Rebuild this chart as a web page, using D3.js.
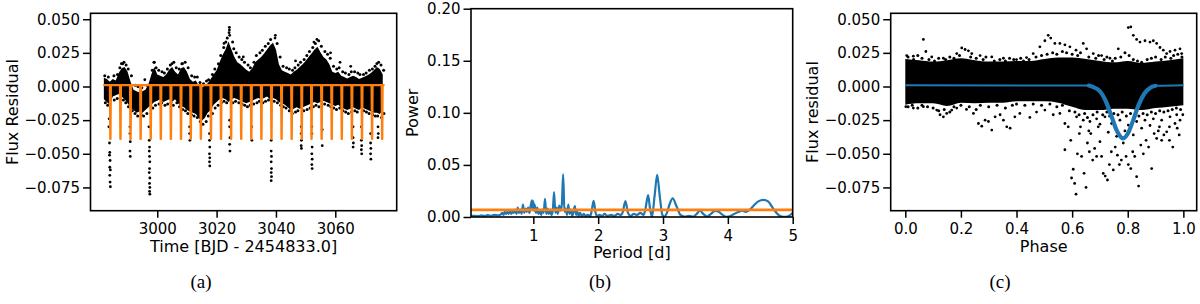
<!DOCTYPE html>
<html><head><meta charset="utf-8">
<script src="https://cdn.jsdelivr.net/npm/d3@7"></script>
<style>body{margin:0;background:#fff}svg{display:block}</style>
</head><body>
<svg id="chart" width="1200" height="304"></svg>
<script>
// ---------------- DATA ----------------
// Panel (a): light curve dense band envelope (time, upper, lower)
const aTime = [2982,2983,2984,2985,2986,2987,2988,2989,2990,2991,2992,2993,2994,2995,2996,2997,2998,2999,3000,3001,3002,3003,3004,3005,3006,3007,3008,3009,3010,3011,3012,3013,3014,3015,3016,3017,3018,3019,3020,3021,3022,3023,3024,3025,3026,3027,3028,3029,3030,3031,3032,3033,3034,3035,3036,3037,3038,3039,3040,3041,3042,3043,3044,3045,3046,3047,3048,3049,3050,3051,3052,3053,3054,3055,3056,3057,3058,3059,3060,3061,3062,3063,3064,3065,3066,3067,3068,3069,3070,3071,3072,3073,3074,3075,3076];
const aUpper = [0.0065,0.0055,0.0035,0.0055,0.0045,0.010,0.0135,0.0145,0.011,0.0035,-0.0025,-0.0035,-0.0045,-0.0035,-0.0025,0.0015,0.009,0.0145,0.009,0.008,0.007,0.009,0.0125,0.0145,0.011,0.009,0.0135,0.0145,0.011,0.0055,0.0035,0.0045,0.0005,-0.0005,0.0005,0.0025,0.0055,0.009,0.012,0.018,0.0235,0.0275,0.0335,0.0275,0.022,0.018,0.0165,0.0145,0.0125,0.011,0.0135,0.018,0.020,0.022,0.0245,0.0275,0.0305,0.0325,0.0275,0.0165,0.012,0.011,0.010,0.009,0.011,0.0125,0.0145,0.0165,0.019,0.022,0.0245,0.0275,0.0295,0.0255,0.022,0.020,0.0165,0.011,0.010,0.011,0.008,0.007,0.006,0.007,0.008,0.007,0.0055,0.0065,0.0075,0.0085,0.010,0.012,0.0145,0.013,0.009];
const aLower = [-0.0095,-0.0115,-0.0135,-0.0075,-0.0065,-0.0055,-0.0075,-0.0095,-0.0125,-0.0155,-0.0175,-0.0195,-0.0185,-0.0195,-0.0175,-0.0155,-0.0135,-0.0115,-0.0105,-0.0095,-0.0115,-0.0105,-0.0095,-0.0115,-0.0095,-0.0125,-0.0145,-0.0155,-0.0175,-0.0185,-0.0195,-0.0205,-0.0235,-0.0255,-0.0235,-0.0195,-0.0175,-0.0135,-0.0115,-0.0095,-0.0085,-0.0095,-0.0115,-0.0095,-0.0085,-0.0095,-0.0105,-0.0115,-0.0125,-0.0115,-0.0105,-0.0095,-0.0085,-0.0095,-0.0085,-0.0075,-0.0095,-0.0085,-0.0095,-0.0115,-0.0125,-0.0135,-0.0155,-0.0175,-0.0165,-0.0155,-0.0165,-0.0155,-0.0145,-0.0135,-0.0125,-0.0115,-0.0125,-0.0115,-0.0105,-0.0115,-0.0125,-0.0135,-0.0145,-0.0135,-0.0155,-0.0165,-0.0175,-0.0165,-0.0155,-0.0165,-0.0175,-0.0155,-0.0165,-0.0175,-0.0185,-0.0195,-0.0195,-0.0205,-0.0175];
// Panel (a): individual scattered points (time, flux)
const aPoints = [
 [2983.9,-0.042],[2984.0,-0.049],[2983.9,-0.051],[2984.1,-0.055],[2984.0,-0.060],[2984.2,-0.062],[2984.0,-0.066],[2984.1,-0.071],[2984.2,-0.0745],[2983.7,-0.030],[2983.8,-0.024],
 [2990.8,-0.030],[2990.8,-0.035],[2990.9,-0.041],[2990.8,-0.048],[2990.9,-0.052],
 [2997.3,-0.040],[2997.4,-0.045],[2997.3,-0.048],[2997.4,-0.052],[2997.5,-0.056],[2997.4,-0.061],[2997.3,-0.064],[2997.5,-0.068],[2997.4,-0.072],[2997.5,-0.075],[2997.4,-0.078],[2997.5,-0.080],[2997.2,-0.030],
 [3010.9,-0.030],[3010.9,-0.035],[3011.0,-0.040],
 [3017.6,-0.035],[3017.6,-0.040],[3017.7,-0.045],[3017.6,-0.050],[3017.7,-0.053],[3017.6,-0.056],[3017.7,-0.059],
 [3024.4,-0.025],[3024.4,-0.030],[3024.5,-0.038],[3024.4,-0.043],[3024.5,-0.048],
 [3031.9,-0.040],[3031.8,-0.030],
 [3038.4,-0.040],[3038.4,-0.048],[3038.5,-0.052],[3038.4,-0.056],[3038.5,-0.061],[3038.4,-0.064],[3038.5,-0.067],[3038.4,-0.070],
 [3048.5,-0.030],[3048.5,-0.035],[3048.6,-0.040],[3048.5,-0.044],[3048.6,-0.046],
 [3052.1,-0.030],[3052.1,-0.035],[3052.2,-0.045],[3052.1,-0.050],[3052.2,-0.054],[3052.1,-0.058],[3052.2,-0.061],
 [3055.6,-0.044],[3055.6,-0.032],
 [3066.0,-0.030],[3066.0,-0.038],[3066.1,-0.042],[3066.0,-0.045],
 [3068.8,-0.030],[3068.8,-0.040],[3068.9,-0.044],[3068.8,-0.047],[3068.9,-0.050],
 [3071.9,-0.035],[3071.9,-0.042],[3072.0,-0.046],[3071.9,-0.050],[3072.0,-0.054],
 [3074.4,-0.030],[3074.5,-0.035],[3074.4,-0.038],
 [3024.3,0.044],[3024.3,0.042],[3024.2,0.040],[3024.4,0.038],[3039.8,0.038],[3039.7,0.036],[3053.8,0.035],[3052.8,0.033],[3022.5,0.032],
 [2987.9,0.017],[2999.0,0.018],[3005.0,0.017],[3008.5,0.017],[3046.6,0.019],[3058.4,0.025],[3061.6,0.018],[3074.0,0.017],[2995.8,0.005],[3029.0,0.022],[3065.2,0.015]
];
// Panel (a): points on the fuzzy upper and lower edges of the dense cloud
const aEdgePoints = [
 [2982.3,0.008],[2983.5,0.007],[2985.4,0.008],[2986.6,0.009],[2987.4,0.014],[2988.3,0.017],[2988.8,0.018],[2989.5,0.016],[2990.2,0.013],[2991.3,0.008],[2992.6,0.001],[2993.5,0.000],[2994.8,-0.001],[2996.6,0.001],[2998.3,0.012],[2998.9,0.018],[2999.6,0.014],[3000.5,0.012],[3001.6,0.011],[3002.4,0.010],[3003.4,0.013],[3004.4,0.016],[3005.6,0.018],[3006.4,0.014],[3007.4,0.013],[3008.3,0.017],[3009.4,0.018],[3010.4,0.014],[3011.6,0.008],[3012.6,0.007],[3013.5,0.007],[3014.4,0.003],[3015.6,0.002],[3016.6,0.004],[3017.3,0.005],[3018.6,0.009],[3019.4,0.013],[3020.6,0.017],[3021.4,0.023],[3022.4,0.029],[3023.1,0.033],[3023.6,0.036],[3025.4,0.033],[3025.8,0.028],[3026.6,0.025],[3027.6,0.022],[3028.5,0.020],[3029.4,0.018],[3030.6,0.016],[3031.4,0.014],[3032.6,0.018],[3033.4,0.023],[3034.6,0.025],[3035.4,0.027],[3036.4,0.030],[3037.4,0.032],[3038.2,0.035],[3040.4,0.032],[3041.4,0.022],[3042.4,0.015],[3043.6,0.014],[3044.5,0.013],[3045.6,0.012],[3046.4,0.014],[3047.5,0.016],[3048.3,0.018],[3049.5,0.020],[3050.4,0.023],[3051.3,0.026],[3052.4,0.029],[3053.3,0.032],[3054.4,0.034],[3055.3,0.030],[3056.5,0.026],[3057.4,0.024],[3058.3,0.021],[3059.4,0.015],[3060.5,0.013],[3061.3,0.014],[3062.5,0.011],[3063.4,0.010],[3064.6,0.009],[3065.4,0.011],[3066.5,0.011],[3067.6,0.010],[3068.3,0.009],[3069.5,0.009],[3070.4,0.010],[3071.5,0.012],[3072.5,0.013],[3073.4,0.015],[3074.6,0.018],[3075.4,0.016],[3076.3,0.012],
 [2982.5,-0.012],[2983.3,-0.014],[2985.5,-0.010],[2986.5,-0.009],[2987.6,-0.008],[2988.6,-0.010],[2989.4,-0.012],[2990.3,-0.015],[2991.6,-0.018],[2992.5,-0.020],[2993.4,-0.022],[2994.6,-0.021],[2995.4,-0.022],[2996.5,-0.020],[2998.5,-0.016],[2999.4,-0.014],[3000.6,-0.013],[3001.5,-0.012],[3002.6,-0.014],[3003.5,-0.013],[3004.6,-0.012],[3005.4,-0.014],[3006.6,-0.012],[3007.5,-0.015],[3008.6,-0.017],[3009.5,-0.018],[3010.3,-0.020],[3011.5,-0.021],[3012.4,-0.022],[3013.5,-0.023],[3014.5,-0.026],[3015.4,-0.028],[3016.5,-0.026],[3017.2,-0.022],[3018.6,-0.020],[3019.5,-0.016],[3020.5,-0.014],[3021.6,-0.012],[3022.5,-0.011],[3023.4,-0.012],[3025.5,-0.012],[3026.4,-0.011],[3027.5,-0.012],[3028.6,-0.013],[3029.5,-0.014],[3030.4,-0.015],[3031.3,-0.014],[3032.5,-0.013],[3033.6,-0.012],[3034.4,-0.011],[3035.6,-0.012],[3036.5,-0.011],[3037.5,-0.010],[3039.4,-0.011],[3040.5,-0.012],[3041.6,-0.014],[3042.5,-0.015],[3043.4,-0.016],[3044.5,-0.018],[3045.5,-0.020],[3046.6,-0.019],[3047.4,-0.018],[3049.4,-0.018],[3050.5,-0.017],[3051.5,-0.016],[3052.6,-0.015],[3053.5,-0.014],[3054.5,-0.015],[3056.4,-0.013],[3057.6,-0.014],[3058.5,-0.015],[3059.5,-0.016],[3060.4,-0.017],[3061.5,-0.016],[3062.6,-0.018],[3063.5,-0.019],[3064.4,-0.020],[3065.5,-0.019],[3066.6,-0.018],[3067.4,-0.019],[3069.6,-0.018],[3070.5,-0.019],[3071.4,-0.020],[3072.6,-0.021],[3073.5,-0.022],[3074.3,-0.022],[3075.6,-0.023],[3076.4,-0.020]
];
// Panel (a): transit model (dip times, baseline, depth, half widths in days)
const aDipTimes = [2984.2,2987.6,2991.0,2994.4,2997.8,3001.2,3004.6,3008.0,3011.3,3014.7,3018.1,3021.5,3024.9,3028.3,3031.7,3035.1,3038.5,3041.9,3045.3,3048.7,3052.0,3055.4,3058.8,3062.2,3065.6,3069.0,3072.4,3075.8];
const aModelBase = 0.001;
const aModelDepth = -0.0390;
const aDipOuter = 0.17, aDipInner = 0.04;

// Panel (b): periodogram (period [d], power)
const bPeriod = [0.04,0.1,0.15,0.2,0.25,0.3,0.35,0.4,0.45,0.5,0.52,0.54,0.56,0.58,0.6,0.62,0.64,0.66,0.68,0.7,0.72,0.74,0.76,0.78,0.8,0.82,0.84,0.86,0.88,0.9,0.92,0.94,0.96,0.98,0.99,1.0,1.01,1.02,1.04,1.06,1.08,1.1,1.12,1.14,1.16,1.18,1.2,1.22,1.24,1.26,1.28,1.3,1.32,1.34,1.36,1.38,1.4,1.42,1.44,1.46,1.48,1.5,1.52,1.54,1.56,1.58,1.6,1.62,1.64,1.66,1.68,1.7,1.72,1.75,1.78,1.8,1.84,1.88,1.9,1.93,1.96,1.98,2.02,2.06,2.1,2.14,2.2,2.25,2.3,2.35,2.38,2.42,2.46,2.5,2.55,2.6,2.65,2.7,2.73,2.77,2.8,2.83,2.87,2.91,2.95,2.99,3.02,3.06,3.1,3.15,3.21,3.27,3.33,3.4,3.47,3.52,3.57,3.62,3.68,3.74,3.8,3.86,3.92,3.98,4.04,4.1,4.17,4.22,4.28,4.34,4.4,4.47,4.55,4.62,4.7,4.78,4.85,4.92,5.0];
const bPower = [0.001,0.0012,0.0008,0.0015,0.001,0.0018,0.0012,0.002,0.0015,0.0025,0.004,0.002,0.005,0.003,0.005,0.003,0.006,0.003,0.005,0.004,0.007,0.003,0.009,0.004,0.007,0.003,0.012,0.004,0.008,0.005,0.009,0.004,0.011,0.016,0.008,0.015,0.006,0.012,0.004,0.009,0.003,0.006,0.002,0.007,0.004,0.0175,0.003,0.008,0.003,0.007,0.002,0.006,0.024,0.004,0.009,0.003,0.011,0.006,0.012,0.041,0.005,0.008,0.002,0.012,0.003,0.007,0.001,0.005,0.0105,0.002,0.005,0.001,0.004,0.001,0.003,0.001,0.002,0.001,0.006,0.0155,0.004,0.001,0.002,0.001,0.003,0.001,0.002,0.001,0.003,0.002,0.005,0.0152,0.004,0.001,0.003,0.002,0.004,0.002,0.008,0.021,0.008,0.0005,0.02,0.0405,0.02,0.002,0.0005,0.004,0.012,0.0178,0.01,0.002,0.0005,0.001,0.0005,0.003,0.006,0.003,0.0005,0.003,0.0058,0.005,0.002,0.0002,0.001,0.003,0.005,0.006,0.005,0.007,0.011,0.015,0.0165,0.015,0.008,0.002,0.0002,0.0005,0.004];
const bThreshold = 0.0068;

// Panel (c): phase-folded band envelope
const cPhase = [0,0.05,0.1,0.15,0.2,0.25,0.3,0.35,0.4,0.45,0.5,0.55,0.6,0.65,0.7,0.75,0.8,0.85,0.9,0.95,1.0];
const cUpper = [0.0205,0.0195,0.0185,0.0195,0.021,0.0195,0.0185,0.0185,0.019,0.019,0.0205,0.0215,0.0215,0.0205,0.019,0.018,0.019,0.0175,0.0185,0.0195,0.021];
const cLower = [-0.0135,-0.0125,-0.0125,-0.0145,-0.012,-0.0125,-0.012,-0.012,-0.011,-0.011,-0.011,-0.012,-0.015,-0.0175,-0.0175,-0.0165,-0.0165,-0.0175,-0.016,-0.015,-0.014];
// Panel (c): scattered points (phase, flux)
const cPoints = [
 [0.065,0.035],[0.074,0.026],[0.005,0.023],[0.029,0.0225],[0.095,0.022],[0.137,0.021],[0.185,0.0245],[0.203,0.0287],[0.215,0.0275],[0.227,0.0265],[0.239,0.0245],[0.269,0.023],[0.311,0.022],[0.353,0.021],[0.40,0.020],[0.436,0.0215],[0.46,0.0245],[0.484,0.0295],[0.502,0.034],[0.514,0.038],[0.523,0.036],[0.538,0.032],[0.556,0.032],[0.574,0.031],[0.592,0.0295],[0.614,0.027],[0.64,0.032],[0.652,0.028],[0.676,0.0245],[0.706,0.023],[0.736,0.021],[0.766,0.028],[0.802,0.0438],[0.811,0.0443],[0.82,0.038],[0.832,0.035],[0.844,0.033],[0.862,0.034],[0.88,0.033],[0.892,0.034],[0.904,0.032],[0.916,0.029],[0.928,0.027],[0.94,0.0245],[0.952,0.026],[0.97,0.027],[0.988,0.028],[0.994,0.0245],
 [0.002,-0.015],[0.029,-0.016],[0.065,-0.015],[0.113,-0.0175],[0.125,-0.021],[0.137,-0.0225],[0.149,-0.020],[0.167,-0.0175],[0.185,-0.016],[0.22,-0.017],[0.245,-0.020],[0.263,-0.0275],[0.275,-0.0295],[0.287,-0.025],[0.299,-0.026],[0.311,-0.0324],[0.323,-0.0225],[0.341,-0.021],[0.353,-0.025],[0.365,-0.030],[0.377,-0.031],[0.394,-0.0225],[0.412,-0.020],[0.448,-0.023],[0.472,-0.019],[0.502,-0.0175],[0.532,-0.021],[0.556,-0.020],[0.574,-0.0275],[0.574,-0.047],[0.586,-0.030],[0.595,-0.040],[0.598,-0.068],[0.604,-0.0615],[0.609,-0.072],[0.614,-0.080],[0.619,-0.050],[0.626,-0.035],[0.634,-0.052],[0.643,-0.0645],[0.65,-0.075],[0.655,-0.042],[0.662,-0.0485],[0.667,-0.035],[0.674,-0.0547],[0.681,-0.046],[0.688,-0.052],[0.694,-0.030],[0.70,-0.041],[0.706,-0.052],[0.712,-0.0646],[0.719,-0.0666],[0.727,-0.0695],[0.734,-0.058],[0.741,-0.0485],[0.748,-0.062],[0.755,-0.045],[0.763,-0.051],[0.77,-0.058],[0.777,-0.0547],[0.784,-0.042],[0.794,-0.052],[0.802,-0.058],[0.811,-0.061],[0.818,-0.0485],[0.825,-0.052],[0.832,-0.067],[0.839,-0.074],[0.847,-0.0435],[0.856,-0.050],[0.866,-0.040],[0.875,-0.045],[0.886,-0.061],[0.895,-0.035],[0.904,-0.0386],[0.914,-0.030],[0.922,-0.040],[0.930,-0.036],[0.94,-0.0337],[0.95,-0.040],[0.962,-0.045],[0.97,-0.0275],[0.978,-0.031],[0.988,-0.025],[0.998,-0.021],
 [0.616,-0.0225],[0.64,-0.025],[0.664,-0.026],[0.688,-0.024],[0.718,-0.0225],[0.742,-0.0275],[0.772,-0.025],[0.802,-0.0287],[0.832,-0.026],[0.862,-0.025],[0.892,-0.024],[0.922,-0.025],[0.952,-0.0225],[0.976,-0.021],
 [0.63,-0.030],[0.66,-0.033],[0.70,-0.028],[0.73,-0.034],[0.76,-0.037],[0.79,-0.033],[0.82,-0.036],[0.85,-0.031],[0.88,-0.029],[0.91,-0.033],[0.95,-0.030],[0.985,-0.036]
];
// Panel (c): points on the fuzzy edges of the dense band
const cEdgePoints = [
 [0.01,0.022],[0.03,0.020],[0.045,0.023],[0.06,0.021],[0.085,0.020],[0.105,0.019],[0.12,0.021],[0.145,0.020],[0.16,0.022],[0.175,0.021],[0.195,0.023],[0.235,0.022],[0.255,0.021],[0.28,0.020],[0.29,0.022],[0.32,0.019],[0.34,0.020],[0.36,0.019],[0.375,0.021],[0.39,0.020],[0.415,0.021],[0.425,0.019],[0.445,0.020],[0.47,0.022],[0.49,0.023],[0.51,0.024],[0.53,0.025],[0.545,0.024],[0.565,0.026],[0.58,0.025],[0.6,0.024],[0.62,0.023],[0.63,0.025],[0.66,0.022],[0.685,0.021],[0.695,0.023],[0.715,0.020],[0.725,0.022],[0.745,0.019],[0.755,0.021],[0.775,0.022],[0.79,0.025],[0.805,0.023],[0.82,0.020],[0.835,0.019],[0.85,0.018],[0.87,0.020],[0.885,0.021],[0.9,0.022],[0.92,0.020],[0.935,0.022],[0.955,0.021],[0.965,0.023],[0.98,0.024],[0.995,0.022],
 [0.01,-0.015],[0.025,-0.014],[0.045,-0.016],[0.06,-0.014],[0.08,-0.015],[0.1,-0.016],[0.12,-0.018],[0.14,-0.017],[0.16,-0.019],[0.175,-0.015],[0.2,-0.014],[0.23,-0.015],[0.255,-0.017],[0.27,-0.014],[0.3,-0.015],[0.33,-0.014],[0.36,-0.016],[0.385,-0.014],[0.4,-0.013],[0.43,-0.014],[0.46,-0.013],[0.49,-0.014],[0.52,-0.013],[0.545,-0.015],[0.565,-0.014],[0.59,-0.018],[0.61,-0.019],[0.625,-0.021],[0.645,-0.020],[0.655,-0.023],[0.675,-0.021],[0.69,-0.019],[0.71,-0.021],[0.725,-0.019],[0.735,-0.022],[0.75,-0.020],[0.765,-0.021],[0.78,-0.019],[0.795,-0.022],[0.81,-0.020],[0.825,-0.021],[0.84,-0.022],[0.855,-0.020],[0.87,-0.021],[0.885,-0.019],[0.9,-0.020],[0.915,-0.018],[0.93,-0.019],[0.945,-0.018],[0.96,-0.017],[0.975,-0.016],[0.99,-0.017]
];
// Panel (c): transit model (phase, flux)
const cModelPhase = [0,0.66,0.70,0.72,0.74,0.76,0.783,0.80,0.82,0.84,0.86,0.88,0.90,1.0];
const cModelFlux = [0.001,0.0007,-0.0036,-0.0104,-0.0212,-0.0325,-0.0385,-0.0351,-0.0248,-0.0133,-0.0052,-0.0011,0.0005,0.001];

// Tick values / labels
const aXTicks = [3000,3020,3040,3060];
const fluxTicks = [-0.075,-0.05,-0.025,0,0.025,0.05];
const bXTicks = [1,2,3,4,5];
const bYTicks = [0,0.05,0.10,0.15,0.20];
const cXTicks = [0,0.2,0.4,0.6,0.8,1.0];
const xLabels = ["Time [BJD - 2454833.0]","Period [d]","Phase"];
const yLabels = ["Flux Residual","Power","Flux residual"];
const captions = ["(a)","(b)","(c)"];

// ---------------- DRAW ----------------
const svg = d3.select("#chart");
svg.append("rect").attr("width",1200).attr("height",304).attr("fill","#fff");
const BLUE="#1f77b4", ORANGE="#ff7f0e", FONT="DejaVu Sans, Verdana, sans-serif";

const boxes = [
 {l:90.5,r:396.7,t:13.3,b:210.7, xd:[2977.5,3080.7], yd:[-0.0923,0.0544]},
 {l:471,r:792.7,t:8.7,b:217, xd:[0.039,5], yd:[0,0.2]},
 {l:890.7,r:1196.7,t:13.3,b:210.7, xd:[-0.0525,1.048], yd:[-0.0923,0.0544]}
];
const scales = boxes.map(b=>({
  x:d3.scaleLinear().domain(b.xd).range([b.l,b.r]),
  y:d3.scaleLinear().domain(b.yd).range([b.b,b.t])
}));
boxes.forEach((b,i)=>{
  svg.append("clipPath").attr("id","clip"+i).append("rect")
    .attr("x",b.l).attr("y",b.t).attr("width",b.r-b.l).attr("height",b.b-b.t);
});
function dots(g,data,x,y,r){
  g.append("g").selectAll("circle").data(data).join("circle")
    .attr("cx",d=>x(d[0])).attr("cy",d=>y(d[1])).attr("r",r).attr("fill","#000");
}

// Panel (a)
{
  const {x,y}=scales[0];
  const g=svg.append("g").attr("clip-path","url(#clip0)");
  const band=aTime.map((t,i)=>({t,u:aUpper[i],l:aLower[i]}));
  g.append("path").datum(band).attr("fill","#000")
    .attr("d",d3.area().x(d=>x(d.t)).y0(d=>y(d.l)).y1(d=>y(d.u)));
  dots(g,aEdgePoints,x,y,1.5);
  dots(g,aPoints,x,y,1.4);
  const model=[];
  model.push([aTime[0]-0.2,aModelBase]);
  aDipTimes.forEach(t=>{
    model.push([t-aDipOuter,aModelBase],[t-aDipInner,aModelDepth],[t+aDipInner,aModelDepth],[t+aDipOuter,aModelBase]);
  });
  model.push([aTime[aTime.length-1]+0.6,aModelBase]);
  g.append("path").datum(model).attr("fill","none").attr("stroke",ORANGE).attr("stroke-width",2.2)
    .attr("stroke-linejoin","round").attr("d",d3.line().x(d=>x(d[0])).y(d=>y(d[1])));
}
// Panel (b)
{
  const {x,y}=scales[1];
  const g=svg.append("g").attr("clip-path","url(#clip1)");
  g.append("path").datum(bPeriod.map((p,i)=>[p,bPower[i]])).attr("fill","none")
    .attr("stroke",BLUE).attr("stroke-width",2.2).attr("stroke-linejoin","round")
    .attr("d",d3.line().x(d=>x(d[0])).y(d=>y(d[1])).curve(d3.curveMonotoneX));
  g.append("line").attr("x1",x(boxes[1].xd[0])).attr("x2",x(boxes[1].xd[1]))
    .attr("y1",y(bThreshold)).attr("y2",y(bThreshold)).attr("stroke",ORANGE).attr("stroke-width",2.8);
}
// Panel (c)
{
  const {x,y}=scales[2];
  const g=svg.append("g").attr("clip-path","url(#clip2)");
  const band=cPhase.map((p,i)=>({p,u:cUpper[i],l:cLower[i]}));
  g.append("path").datum(band).attr("fill","#000")
    .attr("d",d3.area().x(d=>x(d.p)).y0(d=>y(d.l)).y1(d=>y(d.u)).curve(d3.curveMonotoneX));
  dots(g,cEdgePoints,x,y,1.5);
  dots(g,cPoints,x,y,1.4);
  const m=cModelPhase.map((p,i)=>[p,cModelFlux[i]]);
  const line=d3.line().x(d=>x(d[0])).y(d=>y(d[1])).curve(d3.curveMonotoneX);
  g.append("path").datum(m).attr("fill","none").attr("stroke",BLUE).attr("stroke-width",2).attr("d",line);
  g.append("path").datum(m.filter(d=>d[0]>=0.66&&d[0]<=0.9)).attr("fill","none")
    .attr("stroke",BLUE).attr("stroke-width",4.2).attr("stroke-linecap","round").attr("d",line);
}

// Axes
const xTickSets=[aXTicks,bXTicks,cXTicks];
const yTickSets=[fluxTicks,bYTicks,fluxTicks];
const xFmts=[d3.format("d"),d3.format("d"),d3.format(".1f")];
const yFmts=[d3.format(".3f"),d3.format(".2f"),d3.format(".3f")];
const yLabelX=[18,418,818];
const captionX=[201,600,1000];
boxes.forEach((b,i)=>{
  const {x,y}=scales[i];
  const gx=svg.append("g").attr("transform",`translate(0,${b.b})`)
    .call(d3.axisBottom(x).tickValues(xTickSets[i]).tickFormat(xFmts[i]).tickSize(7).tickPadding(6));
  const gy=svg.append("g").attr("transform",`translate(${b.l},0)`)
    .call(d3.axisLeft(y).tickValues(yTickSets[i]).tickFormat(yFmts[i]).tickSize(7.5).tickPadding(3));
  [gx,gy].forEach(g=>{
    g.select(".domain").remove();
    g.selectAll(".tick line").attr("stroke","#000").attr("stroke-width",1.5);
    g.selectAll(".tick text").attr("fill","#000").style("font-family",FONT).style("font-size","15px");
  });
  svg.append("rect").attr("x",b.l).attr("y",b.t).attr("width",b.r-b.l).attr("height",b.b-b.t)
    .attr("fill","none").attr("stroke","#000").attr("stroke-width",1.6);
  svg.append("text").attr("x",(b.l+b.r)/2).attr("y",b.b+41).attr("text-anchor","middle")
    .style("font-family",FONT).style("font-size","16px").attr("fill","#000").text(xLabels[i]);
  svg.append("text").attr("transform",`translate(${yLabelX[i]},${(b.t+b.b)/2}) rotate(-90)`)
    .attr("text-anchor","middle").style("font-family",FONT).style("font-size","16px").attr("fill","#000").text(yLabels[i]);
  svg.append("text").attr("x",captionX[i]).attr("y",288).attr("text-anchor","middle")
    .style("font-family","Liberation Serif, Times New Roman, serif").style("font-size","19px").attr("fill","#000").text(captions[i]);
});
</script>
</body></html>
